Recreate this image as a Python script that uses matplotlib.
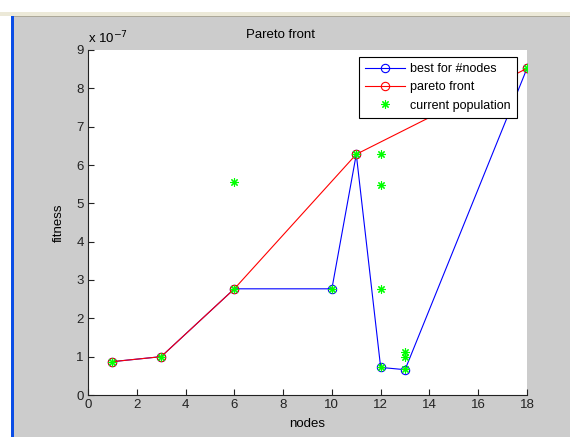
import matplotlib
matplotlib.use("Agg")
import matplotlib.pyplot as plt
from matplotlib.patches import Rectangle
from matplotlib.ticker import FuncFormatter

# best fitness found for each node count
best_nodes = [1, 3, 6, 10, 11, 12, 13, 18]
best_fitness = [0.87e-7, 1.00e-7, 2.77e-7, 2.77e-7, 6.28e-7, 0.72e-7, 0.66e-7, 8.52e-7]

# non-dominated solutions
pareto_nodes = [1, 3, 6, 11, 18]
pareto_fitness = [0.87e-7, 1.00e-7, 2.77e-7, 6.28e-7, 8.52e-7]

# individuals of the current population
pop_nodes = [1, 3, 6, 6, 10, 11, 12, 12, 12, 12, 13, 13, 13, 18]
pop_fitness = [0.87e-7, 1.00e-7, 2.77e-7, 5.55e-7, 2.77e-7, 6.28e-7, 6.28e-7,
               5.47e-7, 2.77e-7, 0.72e-7, 1.12e-7, 0.99e-7, 0.67e-7, 8.52e-7]

x_ticks = [0, 2, 4, 6, 8, 10, 12, 14, 16, 18]
y_ticks = [i * 1e-7 for i in range(10)]

plt.rcParams['font.family'] = ['Liberation Sans', 'DejaVu Sans']

W, H = 570, 437
fig = plt.figure(figsize=(W / 100, H / 100), dpi=100, facecolor='#cccccc')

# window chrome: white strip, toolbar band and blue frame edge
fig.patches.append(Rectangle((0, 1 - 12 / H), 1, 12 / H, transform=fig.transFigure,
                             facecolor='white', edgecolor='none', zorder=0))
fig.patches.append(Rectangle((0, 1 - 16 / H), 1, 4 / H, transform=fig.transFigure,
                             facecolor='#ece9d8', edgecolor='none', zorder=0))
fig.patches.append(Rectangle((0, 1 - 17 / H), 1, 1 / H, transform=fig.transFigure,
                             facecolor='#aca899', edgecolor='none', zorder=0))
fig.patches.append(Rectangle((0, 0), 11 / W, 1 - 16 / H, transform=fig.transFigure,
                             facecolor='white', edgecolor='none', zorder=0))
fig.patches.append(Rectangle((11 / W, 0), 3 / W, 1 - 16 / H, transform=fig.transFigure,
                             facecolor='#0a4de6', edgecolor='none', zorder=0))

ax = fig.add_axes([88 / W, 1 - 395 / H, (527 - 88) / W, (395 - 50) / H])
ax.set_facecolor('white')

ax.plot(best_nodes, best_fitness, color='#0000ff', lw=0.8, marker='o', ms=6,
        mfc='none', mec='#0000ff', mew=0.8, label='best for #nodes')
ax.plot(pareto_nodes, pareto_fitness, color='#ff0000', lw=0.8, marker='o', ms=6,
        mfc='none', mec='#ff0000', mew=0.8, label='pareto front')
ax.plot(pop_nodes, pop_fitness, ls='none', marker=(8, 2, 0), ms=6,
        color='#00ff00', mew=0.8, label='current population')

ax.set_xlim(0, 18)
ax.set_ylim(0, 9e-7)
ax.set_xticks(x_ticks)
ax.set_yticks(y_ticks)
ax.yaxis.set_major_formatter(FuncFormatter(lambda v, p: f"{v / 1e-7:.0f}"))
ax.tick_params(direction='in', length=4, width=0.8, labelsize=9.5, colors='#222222',
               pad=3)
for side in ('top', 'right'):
    ax.spines[side].set_visible(False)
for side in ('left', 'bottom'):
    ax.spines[side].set_linewidth(0.8)
    ax.spines[side].set_color('#222222')

ax.set_xlabel('nodes', fontsize=9.5, labelpad=5)
ax.set_ylabel('fitness', fontsize=9.5, labelpad=8)
fig.text(280 / W, 1 - 35 / H, 'Pareto front', fontsize=9.5, ha='center', va='center')
ax.text(0, 1.01, r'x 10$^{\mathsf{-7}}$', transform=ax.transAxes, fontsize=9.5,
        ha='left', va='bottom')

leg = ax.legend(loc='upper right', fontsize=9, frameon=True, fancybox=False,
                edgecolor='black', framealpha=1, borderpad=0.5, labelspacing=0.5,
                handlelength=3.2, handletextpad=0.4, borderaxespad=0,
                bbox_to_anchor=(0.977, 0.980))
leg.get_frame().set_linewidth(0.8)

fig.savefig('out.png', dpi=100, facecolor=fig.get_facecolor())
